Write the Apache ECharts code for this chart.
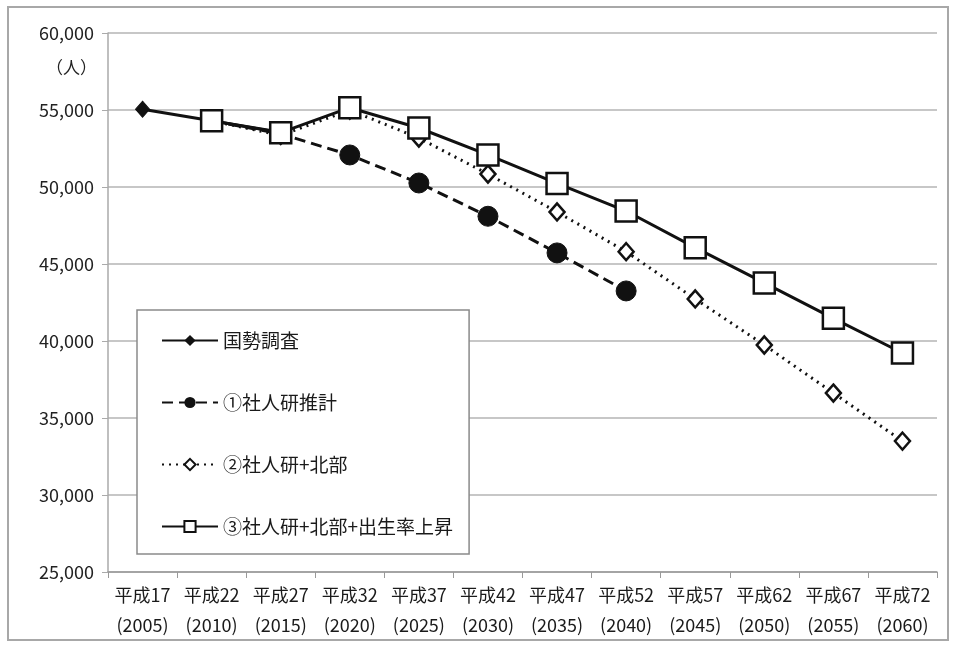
<!DOCTYPE html>
<html>
<head>
<meta charset="utf-8">
<script src="https://cdn.jsdelivr.net/npm/echarts@6/dist/echarts.min.js"></script>
<style>
html, body { margin: 0; padding: 0; background: #fff; }
#chart { width: 955px; height: 646px; }
</style>
</head>
<body>
<div id="chart"></div>
<script>
// 年次（和暦＋西暦）
const categories = ['平成17\n(2005)', '平成22\n(2010)', '平成27\n(2015)', '平成32\n(2020)', '平成37\n(2025)', '平成42\n(2030)',
  '平成47\n(2035)', '平成52\n(2040)', '平成57\n(2045)', '平成62\n(2050)', '平成67\n(2055)', '平成72\n(2060)']
const seriesNames = ['国勢調査', '①社人研推計', '②社人研+北部', '③社人研+北部+出生率上昇']
// 人口（人）
const census = [55050, 54300, 53550, null, null, null, null, null, null, null, null, null]
const ipss = [null, 54300, 53450, 52080, 50260, 48100, 45720, 43250, null, null, null, null]
const ipssNorth = [null, 54300, 53350, 55000, 53180, 50840, 48380, 45800, 42730, 39740, 36620, 33500]
const ipssNorthBirth = [null, 54300, 53530, 55150, 53830, 52080, 50230, 48440, 46060, 43770, 41470, 39220]
const yTicks = { min: 25000, max: 60000, interval: 5000 }

const chart = echarts.init(document.getElementById('chart'))
const font = '"Noto Sans CJK JP", "Noto Sans", sans-serif'

const option = {
  animation: false,
  backgroundColor: '#fff',
  textStyle: { fontFamily: font },
  grid: { left: 108, right: 18, top: 33, bottom: 74 },
  graphic: [
    { type: 'rect', shape: { x: 8, y: 7, width: 940, height: 633 }, style: { fill: 'none', stroke: '#a8a8a8', lineWidth: 2 } },
    { type: 'text', left: 46, top: 59, style: { text: '（人）', font: '17px ' + font, fill: '#222' } }
  ],
  legend: {
    orient: 'vertical',
    left: 137,
    top: 310,
    data: seriesNames,
    itemWidth: 56,
    itemHeight: 14,
    itemGap: 43,
    padding: [21, 16, 18, 24],
    backgroundColor: '#fff',
    borderColor: '#8a8a8a',
    borderWidth: 1.5,
    textStyle: { fontSize: 19, color: '#1a1a1a', fontFamily: font }
  },
  xAxis: {
    type: 'category',
    data: categories,
    boundaryGap: true,
    axisLine: { lineStyle: { color: '#999', width: 1.5 } },
    axisTick: { show: true, length: 6, lineStyle: { color: '#999' } },
    axisLabel: { interval: 0, fontSize: 18, color: '#1a1a1a', lineHeight: 30, margin: 8 }
  },
  yAxis: {
    type: 'value',
    min: yTicks.min,
    max: yTicks.max,
    interval: yTicks.interval,
    axisLine: { show: true, lineStyle: { color: '#aaa', width: 1.5 } },
    axisTick: { show: true, length: 6, lineStyle: { color: '#aaa' } },
    axisLabel: { fontSize: 18, color: '#222', margin: 14, formatter: v => v.toLocaleString('en-US') },
    splitLine: { lineStyle: { color: '#b5b5b5', width: 1.5 } }
  },
  series: [
    {
      name: seriesNames[0], type: 'line', data: census, z: 5,
      symbol: 'diamond', symbolSize: [14, 16],
      lineStyle: { color: '#111', width: 3 },
      itemStyle: { color: '#111', borderColor: '#111' }
    },
    {
      name: seriesNames[1], type: 'line', data: ipss, z: 3,
      symbol: 'circle', symbolSize: 20,
      lineStyle: { color: '#111', width: 3, type: [11, 6] },
      itemStyle: { color: '#111', borderColor: '#111' }
    },
    {
      name: seriesNames[2], type: 'line', data: ipssNorth, z: 4,
      symbol: 'diamond', symbolSize: [15, 17],
      lineStyle: { color: '#111', width: 3, type: [2, 5] },
      itemStyle: { color: '#fff', borderColor: '#111', borderWidth: 2.5 }
    },
    {
      name: seriesNames[3], type: 'line', data: ipssNorthBirth, z: 6,
      symbol: 'rect', symbolSize: 21,
      lineStyle: { color: '#111', width: 3 },
      itemStyle: { color: '#fff', borderColor: '#111', borderWidth: 2.5 }
    }
  ]
}
chart.setOption(option)
</script>
</body>
</html>
